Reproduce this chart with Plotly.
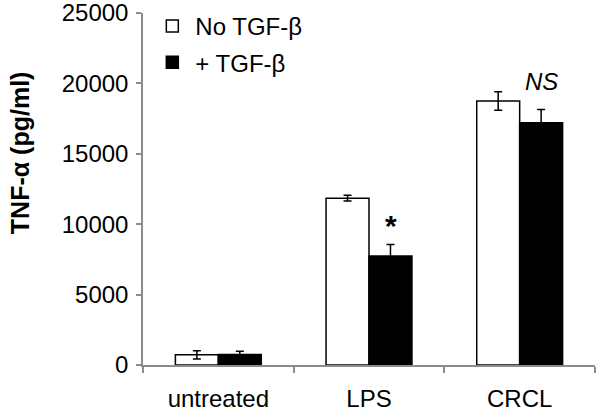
import plotly.graph_objects as go

categories = ["untreated", "LPS", "CRCL"]
no_tgf = [720, 11850, 18750]
no_tgf_err = [300, 200, 650]
plus_tgf = [750, 7750, 17200]
plus_tgf_err = [230, 800, 950]
y_ticks = [0, 5000, 10000, 15000, 20000, 25000]
y_tick_text = [str(v) for v in y_ticks]

FONT = "Arial, Liberation Sans, sans-serif"

fig = go.Figure()
fig.add_trace(go.Bar(
    x=categories, y=no_tgf, name="No TGF-β", legendgroup="a",
    marker=dict(color="white", line=dict(color="black", width=1.5)),
    error_y=dict(type="data", array=no_tgf_err, color="black", thickness=1.5, width=4),
))
fig.add_trace(go.Bar(
    x=categories, y=plus_tgf, name="+ TGF-β", legendgroup="b",
    marker=dict(color="black", line=dict(color="black", width=1.5)),
    error_y=dict(type="data", array=plus_tgf_err, color="black", thickness=1.5, width=4),
))

fig.add_annotation(x="LPS", y=9900, text="<b>*</b>", showarrow=False, xshift=21.5,
                   font=dict(size=30, color="black", family=FONT))
fig.add_annotation(x="CRCL", y=20100, text="<i>NS</i>", showarrow=False, xshift=21.5,
                   font=dict(size=24, color="black", family=FONT))
fig.add_annotation(xref="paper", yref="paper", x=-0.272, y=0.602, text="<b>TNF-α (pg/ml)</b>",
                   textangle=-90, showarrow=False, xanchor="center", yanchor="middle",
                   font=dict(size=25, color="black", family=FONT))

fig.update_layout(
    width=600, height=419,
    margin=dict(l=143, r=5, t=13, b=54, autoexpand=False),
    paper_bgcolor="white", plot_bgcolor="white",
    barmode="group", bargap=0.43, bargroupgap=0,
    font=dict(family=FONT, size=24, color="black"),
    showlegend=True,
    legend=dict(x=0.014, y=1.026, xanchor="left", yanchor="top", tracegroupgap=2,
                itemwidth=36, font=dict(size=24), bgcolor="rgba(0,0,0,0)"),
    xaxis=dict(showline=True, linecolor="#8c8c8c", linewidth=1.5, ticks="outside",
               tickson="boundaries", ticklen=6, tickcolor="#8c8c8c", tickwidth=1.5,
               ticklabelstandoff=11, showgrid=False, ticklabeloverflow="allow"),
    yaxis=dict(range=[0, 25000], tickvals=y_ticks, ticktext=y_tick_text, showline=True,
               linecolor="#8c8c8c", linewidth=1.5, ticks="outside", ticklen=5,
               tickcolor="#8c8c8c", tickwidth=1.5, ticklabelstandoff=3,
               showgrid=False, zeroline=False, ticklabeloverflow="allow"),
)
fig.write_html("out.html", config={"displayModeBar": False},
               post_script="document.body.style.margin='0px';")
